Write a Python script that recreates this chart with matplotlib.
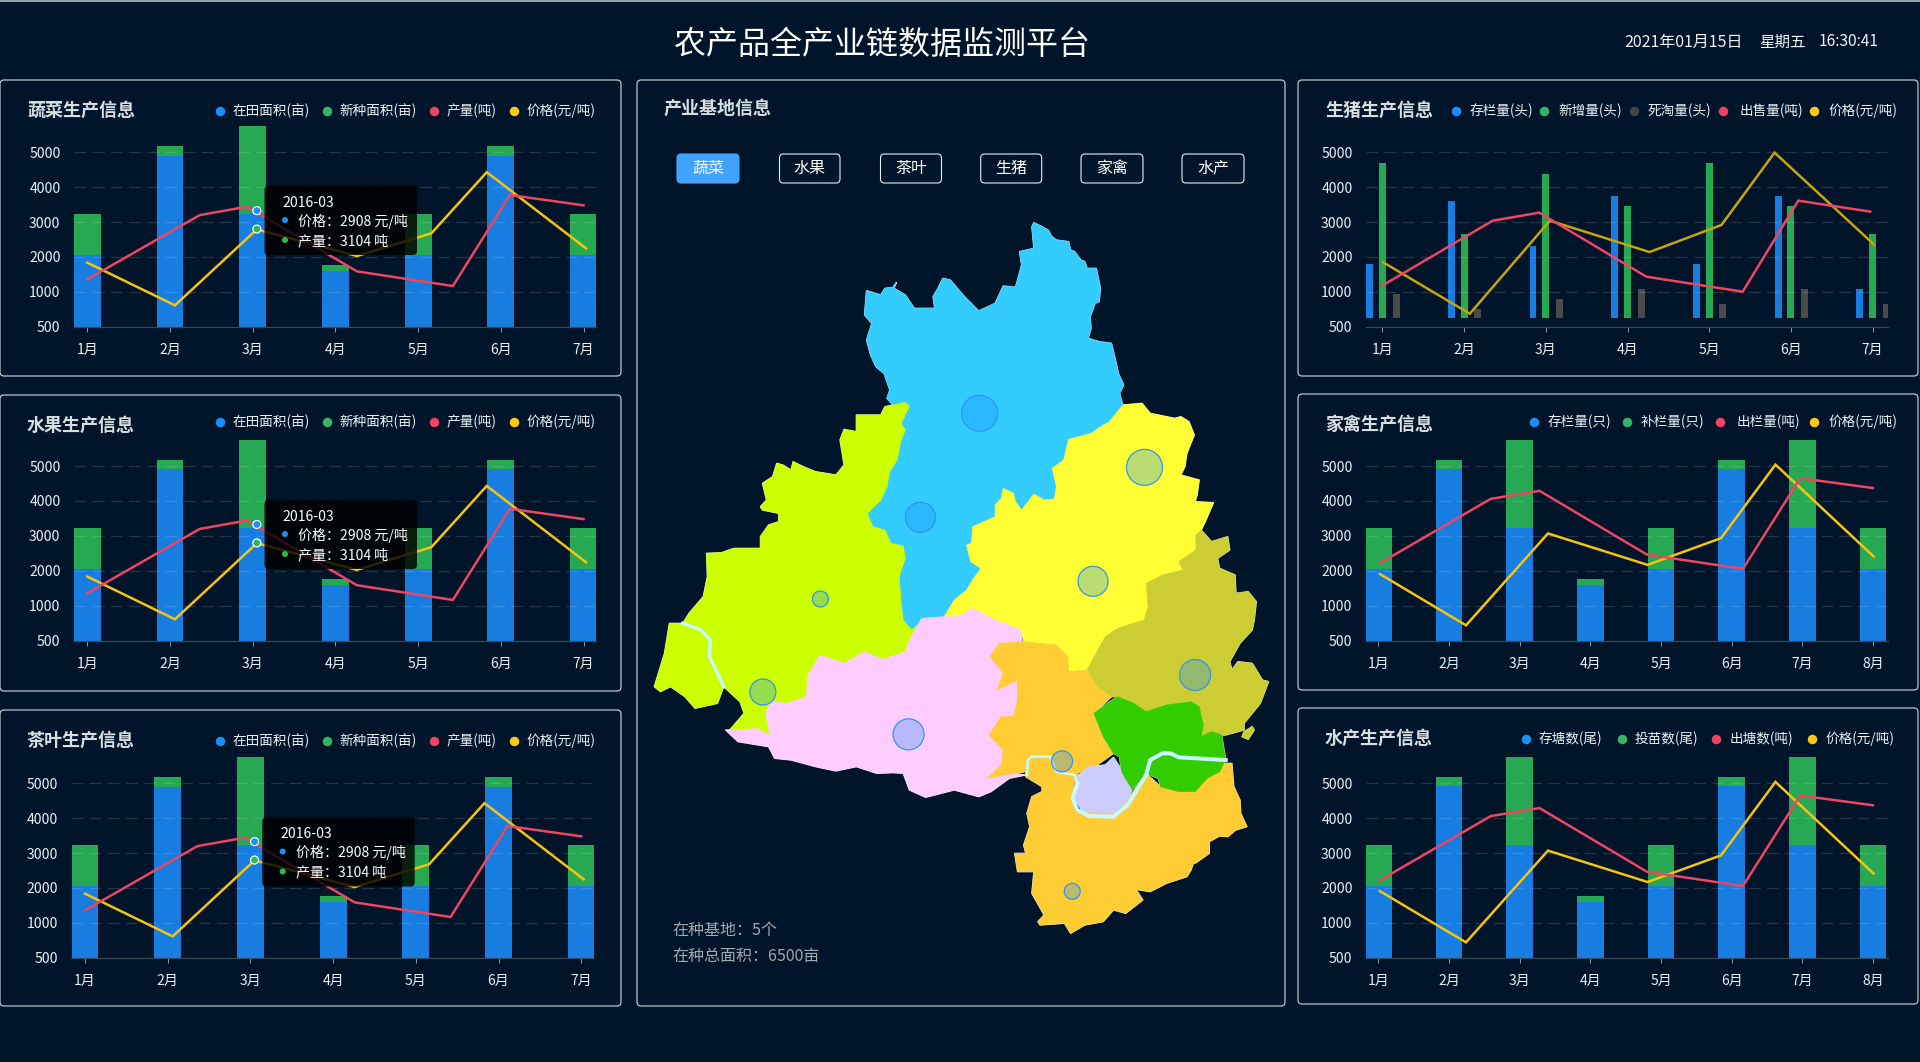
#!/usr/bin/env python3
"""Agricultural full-chain monitoring dashboard (six small charts and a region map)."""

import matplotlib
matplotlib.use("Agg")
import matplotlib.pyplot as plt
import numpy as np
from matplotlib.patches import FancyBboxPatch, Polygon

plt.rcParams["font.family"] = ["Noto Sans CJK SC", "DejaVu Sans"]

BG = "#001529"
BLUE, GREEN, GRAY = "#177DE1", "#27A852", "#4A4A4A"
RED, YELLOW = "#EE4563", "#F7C30E"
LEG_BLUE, LEG_GREEN, LEG_GRAY, LEG_RED, LEG_YELLOW = "#1890FF", "#36B466", "#3E4347", "#F0435F", "#FFC814"

# y axis ticks are evenly spaced though the values are not
Y_TICKS = [500, 1000, 2000, 3000, 4000, 5000]
Y_KNOTS = [500, 1000, 2000, 3000, 4000, 5000, 6000]

MONTHS_7 = ["1月", "2月", "3月", "4月", "5月", "6月", "7月"]
MONTHS_8 = MONTHS_7 + ["8月"]

# left column (vegetable / fruit / tea share the same numbers)
CROP_BASE = [2055, 4900, 3230, 1600, 2055, 4900, 2055]
CROP_TOTAL = [3230, 5180, 5755, 1770, 3230, 5180, 3230]
CROP_YIELD_X = [0.0, 1.36, 1.93, 3.26, 4.42, 5.11, 6.0]
CROP_YIELD = [1358, 3200, 3440, 1587, 1166, 3776, 3480]
CROP_PRICE_X = [0.0, 1.06, 2.05, 3.26, 4.16, 4.83, 6.03]
CROP_PRICE = [1836, 806, 2790, 2027, 2677, 4430, 2247]
HOVER_X = 2.05
HOVER_VALUES = [3327, 2800]

# pigs
PIG_STOCK = [1797, 3600, 2310, 3750, 1797, 3750, 1080]
PIG_NEW = [4680, 2660, 4380, 3460, 4680, 3460, 2660]
PIG_DEAD = [968, 753, 897, 1080, 825, 1080, 825]
PIG_BAR_FLOOR = 630
PIG_SOLD_X = [0.01, 1.35, 1.92, 3.23, 4.41, 5.09, 5.97]
PIG_SOLD = [1195, 3040, 3270, 1434, 1004, 3614, 3300]
PIG_PRICE_X = [0.01, 1.07, 2.05, 3.27, 4.15, 4.80, 6.02]
PIG_PRICE = [1845, 686, 3040, 2140, 2916, 4990, 2350]

# poultry / aquatic
STOCK_BASE = [2055, 4920, 3230, 1600, 2055, 4920, 3230, 2055]
STOCK_TOTAL = [3230, 5180, 5755, 1770, 3230, 5180, 5755, 3230]
OUT_X = [0.02, 1.59, 2.28, 3.80, 5.16, 5.97, 7.0]
OUT = [2218, 4060, 4290, 2466, 2055, 4650, 4370]
OUT_PRICE_X = [0.02, 1.24, 2.40, 3.81, 4.85, 5.62, 7.01]
OUT_PRICE = [1910, 720, 3070, 2170, 2935, 5040, 2410]

# map outlines
NORTH = [(965, 68), (985, 80), (1000, 90), (1008, 108), (1020, 120), (1050, 125), (1055, 150), (1065, 155), (1080, 180), (1090, 185),
         (1095, 205), (1118, 205), (1128, 265), (1125, 305), (1115, 310), (1103, 350), (1105, 385), (1098, 415), (1125, 425), (1155, 430),
         (1165, 480), (1172, 520), (1185, 555), (1175, 580), (1183, 615), (1150, 665), (1130, 675), (1105, 700), (1050, 718), (1038, 780), (1010, 805),
         (1020, 860), (1015, 897), (990, 900), (965, 882), (935, 930), (920, 905), (915, 880), (890, 865),
         (885, 895), (870, 915), (870, 950), (815, 980), (812, 1030), (800, 1035), (810, 1085), (835, 1105),
         (815, 1140), (800, 1170), (770, 1200), (745, 1250), (735, 1252), (700, 1260), (665, 1290), (645, 1260),
         (640, 1215), (635, 1130), (650, 1075), (645, 1038), (615, 1030), (600, 990), (570, 980), (557, 940),
         (590, 900), (605, 860), (612, 815), (630, 780), (640, 720), (650, 690), (640, 670), (660, 620),
         (650, 607), (620, 615), (605, 595), (612, 570), (598, 520), (578, 500), (565, 465), (555, 420),
         (568, 370), (550, 345), (555, 272), (590, 285), (600, 265), (620, 262), (628, 248), (622, 265),
         (650, 285), (672, 325), (722, 325), (718, 290), (730, 265), (742, 235), (760, 240), (795, 290), (830, 333),
         (870, 310), (890, 258), (920, 262), (935, 195), (930, 155), (965, 145), (960, 80)]
WEST = [(650, 607), (660, 620), (640, 670), (650, 690), (640, 720), (630, 780), (612, 815), (605, 860),
        (590, 900), (557, 940), (570, 980), (600, 990), (615, 1030), (645, 1038), (650, 1075), (635, 1130),
        (640, 1215), (645, 1260), (665, 1290), (700, 1255), (660, 1320), (650, 1355), (595, 1378), (550, 1355),
        (500, 1390), (440, 1365), (410, 1430), (408, 1490), (360, 1510), (320, 1505), (308, 1540), (318, 1605),
        (285, 1585), (270, 1590), (250, 1590), (220, 1590), (255, 1540), (245, 1505), (205, 1460), (170, 1370),
        (172, 1320), (150, 1285), (105, 1270), (120, 1240), (155, 1190), (165, 1130), (163, 1060), (200, 1058),
        (230, 1045), (295, 1045), (295, 1010), (315, 975), (340, 965), (340, 940), (300, 930), (295, 920),
        (310, 900), (300, 850), (325, 830), (335, 790), (350, 795), (370, 810), (375, 785), (400, 800), (430, 815),
        (480, 825), (500, 795), (490, 720), (500, 688), (530, 695), (530, 645), (590, 645), (600, 620)]
WEST_SMALL = [(72, 1270), (105, 1270), (150, 1290), (172, 1320), (170, 1370), (205, 1460), (190, 1510), (135, 1525),
              (110, 1490), (75, 1460), (50, 1475), (35, 1460), (60, 1360)]
CENTER = [(1183, 615), (1230, 610), (1250, 640), (1310, 655), (1325, 650), (1345, 665), (1358, 705), (1340, 760), (1335, 800),
          (1325, 825), (1370, 840), (1365, 885), (1360, 905), (1405, 908), (1385, 965), (1375, 990), (1362, 1005),
          (1362, 1050), (1320, 1085), (1330, 1110), (1280, 1125), (1240, 1150), (1245, 1220), (1235, 1260),
          (1170, 1285), (1140, 1310), (1095, 1410), (1050, 1415), (1048, 1370), (1020, 1335), (940, 1325),
          (935, 1290), (870, 1260), (815, 1225), (780, 1250), (745, 1250), (770, 1200), (800, 1170), (815, 1140),
          (835, 1105), (810, 1085), (800, 1035), (812, 1030), (815, 980), (870, 950), (870, 915), (885, 895),
          (890, 865), (915, 880), (920, 905), (935, 930), (965, 882), (990, 900), (1015, 897), (1020, 860),
          (1010, 805), (1038, 780), (1050, 718), (1105, 700), (1150, 665)]
EAST = [(1375, 990), (1400, 1025), (1440, 1010), (1445, 1050), (1415, 1075), (1420, 1105), (1458, 1125), (1460, 1180),
        (1490, 1175), (1510, 1205), (1505, 1260), (1500, 1290), (1470, 1330), (1445, 1385), (1450, 1410), (1465, 1385),
        (1500, 1390), (1525, 1440), (1540, 1445), (1520, 1510), (1480, 1570), (1480, 1590), (1435, 1605), (1425, 1605),
        (1400, 1595), (1375, 1610), (1380, 1575), (1370, 1520), (1350, 1505), (1290, 1515), (1240, 1535), (1210, 1515),
        (1170, 1490), (1155, 1490), (1120, 1460), (1095, 1410), (1140, 1310), (1170, 1285), (1235, 1260), (1245, 1220),
        (1240, 1150), (1280, 1125), (1330, 1110), (1320, 1085), (1362, 1050), (1362, 1005)]
EAST_ISLAND = [(1480, 1595), (1500, 1580), (1505, 1590), (1490, 1618), (1475, 1610)]
SOUTH_WEST = [(815, 1225), (870, 1260), (935, 1290), (935, 1325), (880, 1330), (858, 1370), (890, 1420), (875, 1470),
              (925, 1440), (925, 1500), (915, 1550), (885, 1550), (855, 1605), (890, 1650), (885, 1695), (915, 1720),
              (945, 1725), (905, 1735), (860, 1775), (830, 1790), (770, 1770), (700, 1792), (660, 1770), (645, 1720),
              (620, 1718), (580, 1720), (530, 1700), (480, 1713), (430, 1700), (370, 1680), (330, 1675), (315, 1640),
              (240, 1625), (210, 1590), (220, 1590), (250, 1590), (285, 1585), (318, 1605), (308, 1540), (320, 1505),
              (360, 1510), (408, 1490), (410, 1430), (440, 1365), (500, 1390), (550, 1355), (595, 1378), (650, 1355),
              (660, 1320), (690, 1255), (745, 1250), (780, 1250)]
SOUTH = [(880, 1330), (940, 1325), (1020, 1335), (1048, 1370), (1050, 1415), (1095, 1410), (1120, 1460), (1155, 1490),
         (1112, 1540), (1135, 1610), (1160, 1660), (1120, 1695), (1080, 1715), (1070, 1720), (1095, 1745), (1085, 1760),
         (1075, 1740), (1065, 1730), (1060, 1790), (1075, 1835), (1160, 1840), (1200, 1790), (1240, 1720), (1275, 1760),
         (1340, 1775), (1375, 1745), (1435, 1690), (1450, 1690), (1455, 1760), (1470, 1800), (1472, 1840), (1487, 1880),
         (1460, 1890), (1440, 1910), (1420, 1908), (1395, 1925), (1395, 1960), (1360, 1990), (1340, 1970), (1360, 1975),
         (1350, 2010), (1340, 2030), (1290, 2050), (1250, 2075), (1215, 2068), (1232, 2100), (1190, 2140),
         (1160, 2130), (1135, 2165), (1090, 2175), (1055, 2200), (1040, 2170), (980, 2175), (975, 2165), (990, 2145), (960, 2080),
         (965, 2015), (925, 2015), (918, 1960), (945, 1960), (940, 1935), (955, 1880), (948, 1840), (960, 1790), (985, 1775),
         (985, 1760), (945, 1730), (945, 1690), (955, 1670), (1005, 1670), (945, 1715), (915, 1720), (850, 1735), (885, 1695),
         (890, 1650), (855, 1605), (885, 1550), (915, 1550), (925, 1500), (925, 1440), (875, 1470), (890, 1420), (858, 1370)]
LAKE_REGION = [(1112, 1540), (1145, 1510), (1170, 1490), (1210, 1510), (1240, 1535), (1290, 1515), (1350, 1505), (1370, 1520),
               (1380, 1575), (1375, 1610), (1400, 1595), (1425, 1605), (1435, 1680), (1420, 1715), (1390, 1735), (1360, 1775),
               (1320, 1775), (1275, 1760), (1270, 1735), (1240, 1720), (1205, 1770), (1180, 1720), (1175, 1670), (1160, 1660),
               (1135, 1610)]
INNER = [(1160, 1672), (1175, 1700), (1180, 1720), (1205, 1770), (1190, 1810), (1160, 1840), (1085, 1835), (1062, 1790),
         (1070, 1730), (1100, 1700), (1140, 1695)]
RIVER_UPPER = [(948, 1725), (950, 1680), (960, 1670), (1005, 1670), (1020, 1715), (1065, 1725), (1072, 1750)]
RIVER_BEND = [(1072, 1750), (1060, 1795), (1072, 1830), (1100, 1848), (1160, 1850), (1195, 1815), (1240, 1725)]
RIVER_LOWER = [(1240, 1725), (1250, 1680), (1280, 1660), (1300, 1660), (1320, 1672), (1435, 1680)]
RIVER_WEST = [(105, 1270), (150, 1290), (172, 1320), (170, 1370), (205, 1460)]

BASE_X = [832, 687, 1236, 1110, 442, 1360, 301, 658, 1034, 1059]
BASE_Y = [640, 952, 802, 1144, 1197, 1425, 1476, 1603, 1684, 2074]
BASE_RADIUS = [18, 15, 18, 15, 8, 15.5, 13, 15.5, 10.5, 8]

BUTTONS = ["蔬菜", "水果", "茶叶", "生猪", "家禽", "水产"]
CROP_LEGEND = ["在田面积(亩)", "新种面积(亩)", "产量(吨)", "价格(元/吨)"]


def px(v):
    # css pixels to points at dpi 100
    return v * 0.72


def add_axes_px(fig, x0, y0, x1, y1):
    return fig.add_axes([x0 / 1920, 1 - y1 / 1062, (x1 - x0) / 1920, (y1 - y0) / 1062])


def forward(v):
    return np.interp(v, Y_KNOTS, np.arange(len(Y_KNOTS), dtype=float))


def inverse(v):
    return np.interp(v, np.arange(len(Y_KNOTS), dtype=float), Y_KNOTS)


def chart_axes(fig, x0, x1, y500, y5000, months, first, step):
    unit = (y500 - y5000) / 5
    ax = add_axes_px(fig, x0, y500 - unit * 5.9, x1, y500)
    ax.set_facecolor("none")
    ax.set_yscale("function", functions=(forward, inverse))
    ax.set_ylim(500, 5900)
    ax.set_xlim((x0 - first) / step, (x1 - first) / step)
    ax.set_yticks(Y_TICKS)
    ax.minorticks_off()
    ax.set_xticks(range(len(months)))
    ax.set_xticklabels(months)
    ax.tick_params(axis="x", length=px(5), width=px(1), color="#8593A0", labelcolor="#EAF1F6",
                   labelsize=px(14), pad=px(11.5))
    ax.tick_params(axis="y", length=0, labelcolor="#EAF1F6", labelsize=px(14), pad=px(13))
    for name in ("top", "left", "right"):
        ax.spines[name].set_visible(False)
    ax.spines["bottom"].set_color("#3A4858")
    ax.spines["bottom"].set_linewidth(px(1.2))
    for tick in Y_TICKS[1:]:
        ax.axhline(tick, color="#FFFFFF", alpha=0.14, lw=px(1.3), ls=(0, (9, 5)), zorder=4)
    return ax


def draw_lines(ax, red_x, red, yellow_x, yellow, yellow_color=YELLOW):
    ax.plot(yellow_x, yellow, color=yellow_color, lw=px(2.5), zorder=5, clip_on=False, solid_joinstyle="miter")
    ax.plot(red_x, red, color=RED, lw=px(2.5), zorder=6, clip_on=False, solid_joinstyle="miter")


def panel_box(page, x0, y0, x1, y1):
    page.add_patch(FancyBboxPatch((x0 + 4, y0 + 4), x1 - x0 - 8, y1 - y0 - 8, boxstyle="round,pad=4,rounding_size=4",
                                  fc="none", ec="#D5DADF", lw=px(1.1), zorder=1))


def legend(page, y, dots, texts, labels, colors):
    for dx, tx, lab, col in zip(dots, texts, labels, colors):
        page.scatter([dx], [y], s=px(9.5) ** 2, color=col, linewidths=0, zorder=3)
        page.text(tx, y, lab, color="#EAF1F6", fontsize=px(13.6), va="center", ha="left")


def title(page, x, y, text):
    page.text(x, y + 1, text, color="#D8DDE2", fontsize=px(18), fontweight="bold", va="center", ha="left")


def tooltip(page, ax, dx, dy):
    # dx, dy: offset from the first panel's tooltip
    page.add_patch(FancyBboxPatch((268.5 + dx, 189.7 + dy), 144.5, 61.3, boxstyle="round,pad=4,rounding_size=4",
                                  fc="#000000", ec="none", alpha=0.82, zorder=8))
    page.text(282.5 + dx, 203 + dy, "2016-03", color="#FFFFFF", fontsize=px(14), va="center", zorder=9)
    page.scatter([285 + dx, 285 + dx], [220 + dy, 240 + dy], s=px(6) ** 2, color=[LEG_BLUE, "#2DBA4E"], linewidths=0, zorder=9)
    page.text(298 + dx, 221 + dy, "价格：2908 元/吨", color="#FFFFFF", fontsize=px(14), va="center", zorder=9)
    page.text(298 + dx, 241 + dy, "产量：3104 吨", color="#FFFFFF", fontsize=px(14), va="center", zorder=9)
    ax.scatter([HOVER_X, HOVER_X], HOVER_VALUES, s=px(8) ** 2, color=[LEG_BLUE, "#2DBA4E"], edgecolors="#FFFFFF",
               linewidths=px(1.2), zorder=7, clip_on=False)


def draw_map(fig):
    ax = add_axes_px(fig, 640, 200, 1280, 1000)
    ax.set_xlim(0, 1568)
    ax.set_ylim(2400, 0)
    ax.axis("off")
    ax.patch.set_alpha(0)
    regions = [(NORTH, "#33CCFF"), (WEST, "#CCFF00"), (WEST_SMALL, "#CCFF00"), (CENTER, "#FFFF33"), (EAST, "#CCCC33"),
               (EAST_ISLAND, "#CCCC33"), (SOUTH_WEST, "#FFCCFF"), (SOUTH, "#FFCC33"), (LAKE_REGION, "#33CC00"), (INNER, "#CCCCFF")]
    for outline, _ in regions:
        ax.add_patch(Polygon(outline, closed=True, fc="none", ec="#E6F2F8", lw=px(1.3), joinstyle="round", zorder=1))
    for outline, color in regions:
        ax.add_patch(Polygon(outline, closed=True, fc=color, ec=color, lw=px(0.6), zorder=2))
    ax.plot(*zip(*RIVER_UPPER), color="#C8FAFF", lw=px(2.5), zorder=3)
    ax.plot(*zip(*RIVER_BEND), color="#C8FAFF", lw=px(4), zorder=3)
    ax.plot(*zip(*RIVER_LOWER), color="#C8FAFF", lw=px(4), zorder=3)
    ax.plot(*zip(*RIVER_WEST), color="#C8FAFF", lw=px(3.5), zorder=3)
    sizes = [px(2 * r) ** 2 for r in BASE_RADIUS]
    ax.scatter(BASE_X, BASE_Y, s=sizes, color=(0.094, 0.565, 1.0, 0.3), edgecolors="#2E93F5", linewidths=px(1.2), zorder=4)


def main():
    fig = plt.figure(figsize=(19.2, 10.62), dpi=100, facecolor=BG)

    page = fig.add_axes([0, 0, 1, 1], zorder=5)
    page.set_xlim(0, 1920)
    page.set_ylim(1062, 0)
    page.axis("off")
    page.patch.set_alpha(0)

    page.axhline(0.5, color="#C8CCD0", lw=px(1.5))
    page.text(882, 45, "农产品全产业链数据监测平台", color="#FFFFFF", fontsize=px(32), ha="center", va="center")
    page.text(1624, 42, "2021年01月15日", color="#F0F4F8", fontsize=px(16), va="center")
    page.text(1759, 42, "星期五", color="#F0F4F8", fontsize=px(15.5), va="center")
    page.text(1819, 42, "16:30:41", color="#F0F4F8", fontsize=px(15.5), va="center")

    for box in [(0, 80, 621, 376), (0, 395, 621, 691), (0, 710, 621, 1006),
                (637, 80, 1285, 1006),
                (1298, 80, 1918, 376), (1298, 394, 1918, 690), (1298, 708, 1918, 1004)]:
        panel_box(page, *box)

    # left column
    crop_colors = [LEG_BLUE, LEG_GREEN, LEG_RED, LEG_YELLOW]
    left_dots = [219.6, 326.5, 433.5, 513.5]
    left_text = [232.6, 339.6, 446.5, 526.5]
    for name, y_title, y_leg, y500, y5000, x0, x1, first, tdx, tdy in [
        ("蔬菜生产信息", 110, 111, 326.7, 152.3, 73.5, 596, 87.3, 0, 0),
        ("水果生产信息", 425, 422, 640.7, 466, 73.5, 596, 87.3, 0, 314),
        ("茶叶生产信息", 740, 741, 957.7, 783.3, 71.4, 594, 85, -2.3, 631.5),
    ]:
        title(page, 27, y_title, name)
        legend(page, y_leg, left_dots, left_text, CROP_LEGEND, crop_colors)
        ax = chart_axes(fig, x0, x1, y500, y5000, MONTHS_7, first, 82.7)
        xs = np.arange(7)
        ax.bar(xs, CROP_BASE, width=0.325, color=BLUE, bottom=0, zorder=2)
        ax.bar(xs, np.subtract(CROP_TOTAL, CROP_BASE), width=0.325, bottom=CROP_BASE, color=GREEN, zorder=2)
        draw_lines(ax, CROP_YIELD_X, CROP_YIELD, CROP_PRICE_X, CROP_PRICE)
        tooltip(page, ax, tdx, tdy)

    # right column, pigs
    title(page, 1325, 110, "生猪生产信息")
    legend(page, 111, [1455.5, 1544.3, 1633.5, 1722.7, 1814], [1469.2, 1558, 1647.6, 1740, 1828.4],
           ["存栏量(头)", "新增量(头)", "死淘量(头)", "出售量(吨)", "价格(元/吨)"],
           [LEG_BLUE, LEG_GREEN, LEG_GRAY, LEG_RED, LEG_YELLOW])
    ax = chart_axes(fig, 1365.5, 1888, 326.7, 152.3, MONTHS_7, 1382.4, 81.7)
    xs = np.arange(7)
    for values, color, shift in [(PIG_STOCK, BLUE, -0.157), (PIG_NEW, GREEN, 0.0), (PIG_DEAD, GRAY, 0.167)]:
        ax.bar(xs + shift, np.subtract(values, PIG_BAR_FLOOR), width=0.085, bottom=PIG_BAR_FLOOR, color=color, zorder=2)
    draw_lines(ax, PIG_SOLD_X, PIG_SOLD, PIG_PRICE_X, PIG_PRICE, yellow_color="#C9A30C")

    # right column, poultry and aquatic
    for name, labels, y_title, y_leg, y500, y5000, dots, texts in [
        ("家禽生产信息", ["存栏量(只)", "补栏量(只)", "出栏量(吨)", "价格(元/吨)"], 424, 422, 640.7, 466,
         [1534.3, 1626.7, 1720, 1814.3], [1548, 1640.4, 1736.8, 1828.4]),
        ("水产生产信息", ["存塘数(尾)", "投苗数(尾)", "出塘数(吨)", "价格(元/吨)"], 738, 739, 957.7, 783.3,
         [1525.5, 1621.5, 1715.9, 1811.5], [1539, 1634.8, 1730, 1825.2]),
    ]:
        title(page, 1325, y_title, name)
        legend(page, y_leg, dots, texts, labels, crop_colors)
        ax = chart_axes(fig, 1365.5, 1888, y500, y5000, MONTHS_8, 1378.4, 70.65)
        xs = np.arange(8)
        ax.bar(xs, STOCK_BASE, width=0.38, color=BLUE, zorder=2)
        ax.bar(xs, np.subtract(STOCK_TOTAL, STOCK_BASE), width=0.38, bottom=STOCK_BASE, color=GREEN, zorder=2)
        draw_lines(ax, OUT_X, OUT, OUT_PRICE_X, OUT_PRICE)

    # centre panel
    title(page, 664, 108, "产业基地信息")
    for i, (label, left, right) in enumerate(zip(BUTTONS, [677, 779.5, 880.5, 980.7, 1081, 1182],
                                                 [739, 840, 941.5, 1041.7, 1143, 1244])):
        fc = "#40A4FF" if i == 0 else "none"
        ec = "#40A4FF" if i == 0 else "#E8EDF2"
        page.add_patch(FancyBboxPatch((left + 4, 158), right - left - 8, 21, boxstyle="round,pad=4,rounding_size=4",
                                      fc=fc, ec=ec, lw=px(1.1), zorder=2))
        page.text((left + right) / 2, 168, label, color="#FFFFFF", fontsize=px(16), ha="center", va="center", zorder=3)
    page.text(672.6, 931, "在种基地：5个", color="#A2A8AE", fontsize=px(16), va="center")
    page.text(672.6, 956, "在种总面积：6500亩", color="#A2A8AE", fontsize=px(16), va="center")

    draw_map(fig)

    fig.savefig("out.png", dpi=100, facecolor=BG)


if __name__ == "__main__":
    main()
